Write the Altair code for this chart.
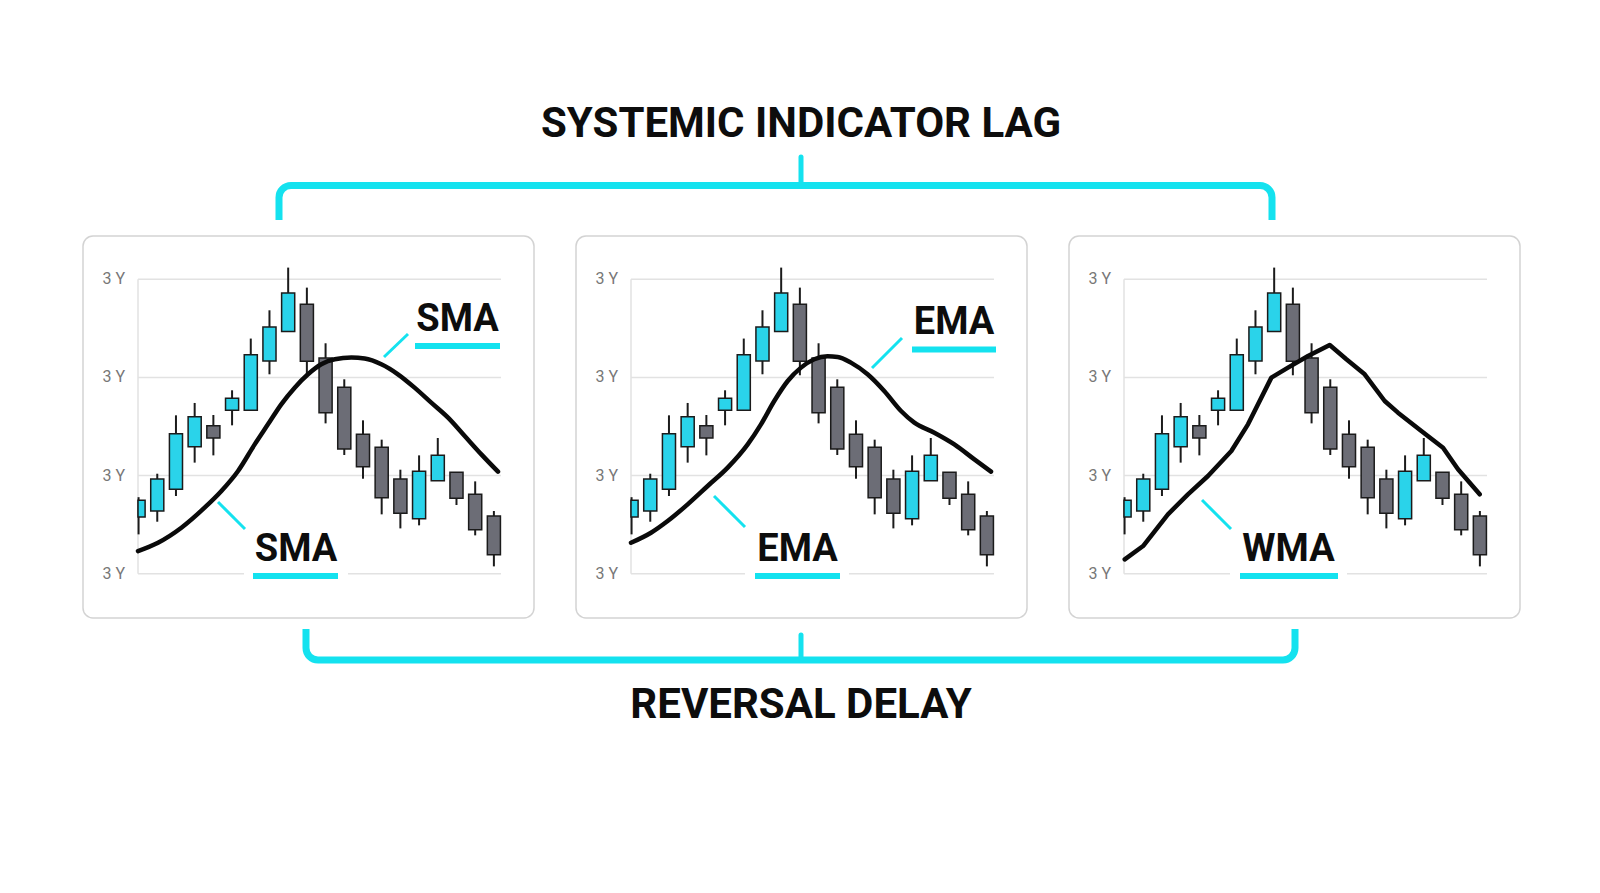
import altair as alt
import pandas as pd

# ---------------- data ----------------
candle_x = list(range(1, 21))
candle_open  = [105.78, 106.39, 108.60, 112.95, 115.09, 116.65, 116.65, 121.68, 124.67, 127.45,
                121.98, 118.99, 114.20, 112.88, 109.65, 105.61, 109.48, 110.33, 108.09, 105.88]
candle_close = [107.48, 109.65, 114.27, 116.00, 113.83, 117.87, 122.32, 125.14, 128.61, 121.64,
                116.41, 112.71, 110.91, 107.75, 106.15, 110.43, 112.06, 107.68, 104.49, 101.94]
candle_high  = [107.80, 110.19, 116.14, 117.40, 116.17, 118.69, 123.96, 126.84, 131.19, 129.15,
                123.48, 119.81, 115.63, 113.66, 110.60, 112.06, 113.83, 110.33, 109.41, 106.39]
candle_low   = [104.01, 105.30, 107.92, 111.32, 112.06, 115.12, 116.65, 120.32, 124.67, 120.22,
                115.32, 112.10, 109.68, 106.05, 104.62, 104.93, 109.48, 107.00, 103.91, 100.75]

sma_x = [0.97, 2.04, 3.29, 4.53, 5.43, 6.32, 7.21, 7.92, 8.63, 9.35, 10.06, 10.77, 11.49,
         12.38, 13.09, 13.98, 14.87, 15.76, 16.65, 17.55, 18.44, 19.33, 20.22]
sma_y = [102.31, 103.16, 104.69, 106.73, 108.43, 110.47, 113.18, 115.22, 117.26, 118.96, 120.32,
         121.34, 121.85, 122.02, 121.92, 121.34, 120.32, 118.96, 117.43, 115.90, 114.03, 112.16, 110.40]

ema_x = [0.97, 2.04, 2.93, 4.00, 5.07, 6.14, 7.21, 7.92, 8.63, 9.35, 10.06, 10.77, 11.48,
         12.02, 12.73, 13.62, 14.51, 15.41, 16.12, 17.19, 18.26, 19.33, 20.22]
ema_y = [103.16, 104.18, 105.37, 107.07, 108.94, 110.81, 113.18, 115.22, 117.60, 119.64, 121.00,
         121.85, 122.15, 122.09, 121.51, 120.32, 118.62, 116.58, 115.39, 114.37, 113.18, 111.65, 110.40]

wma_x = [1.01, 1.99, 3.32, 4.39, 5.46, 6.71, 7.60, 8.85, 9.74, 10.81, 11.97, 12.86, 13.84,
         14.91, 15.62, 16.87, 18.03, 18.83, 19.99]
wma_y = [101.46, 102.82, 106.05, 108.09, 109.96, 112.50, 115.22, 119.98, 121.00, 122.19, 123.31,
         121.85, 120.32, 117.60, 116.41, 114.54, 112.84, 110.64, 108.09]

grid_values = [100, 110, 120, 130]
grid_labels = ["3 Y", "3 Y", "3 Y", "3 Y"]
ma_names = ["SMA", "EMA", "WMA"]
title_top = "SYSTEMIC INDICATOR LAG"
title_bottom = "REVERSAL DELAY"

# ---------------- styling ----------------
CYAN = "#14e2ef"
CANDLE_CYAN = "#2ad3ea"
GRAY = "#6c6d76"
DARK = "#1b1b1b"
FONT = "Roboto"

BOX_W, BOX_H = 451, 382
PLOT_X0, PLOT_X1 = 0.97, 20.38
HALF = 0.35
xs = alt.Scale(domain=[-1.971, 22.145], nice=False, zero=False)
ys = alt.Scale(domain=[95.49, 134.41], nice=False, zero=False)

candles = pd.DataFrame({"x": candle_x, "open": candle_open, "close": candle_close,
                        "high": candle_high, "low": candle_low})
candles["dir"] = ["up" if c >= o else "down" for o, c in zip(candle_open, candle_close)]
grid = pd.DataFrame({"v": grid_values, "lab": grid_labels})
one = alt.Data(values=[{}])


def vrule(x, x2, y, y2=None, color=CYAN, w=3, cap="butt"):
    enc = dict(x=alt.value(x), x2=alt.value(x2), y=alt.value(y))
    if y2 is not None:
        enc["y2"] = alt.value(y2)
    return alt.Chart(one).mark_rule(color=color, strokeWidth=w, strokeCap=cap).encode(**enc)


def txt(s, x, y, size, color="#0d0d0d", weight="bold", align="center"):
    return alt.Chart(one).mark_text(text=s, font=FONT, fontSize=size, fontWeight=weight,
                                    color=color, align=align, baseline="alphabetic").encode(
        x=alt.value(x), y=alt.value(y))


def brace_frame(x0, x1, y0, y1, w=7, r=12):
    return alt.Chart(one).mark_rect(clip=True, fill="transparent", stroke=CYAN, strokeWidth=w,
                                    cornerRadius=r).encode(
        x=alt.value(x0), x2=alt.value(x1), y=alt.value(y0), y2=alt.value(y1))


def white_cover(x0, x1, y0, y1):
    return alt.Chart(one).mark_rect(clip=True, fill="white").encode(
        x=alt.value(x0), x2=alt.value(x1), y=alt.value(y0), y2=alt.value(y1))


def panel(mx, my, interp, name, lower, upper):
    box = alt.Chart(one).mark_rect(cornerRadius=10, fill="white", stroke="#d3d3d3",
                                   strokeWidth=1.5).encode(
        x=alt.value(0), x2=alt.value(BOX_W), y=alt.value(0), y2=alt.value(BOX_H))
    gridl = alt.Chart(grid).mark_rule(color="#e2e2e2", strokeWidth=1.5).transform_calculate(
        xa=str(PLOT_X0), xb=str(PLOT_X1)).encode(
        x=alt.X("xa:Q", scale=xs, axis=None), x2="xb:Q",
        y=alt.Y("v:Q", scale=ys, axis=None))
    axl = alt.Chart(grid).mark_rule(color="#e2e2e2", strokeWidth=1.5).transform_aggregate(
        lo="min(v)", hi="max(v)").transform_calculate(xa=str(PLOT_X0)).encode(
        x=alt.X("xa:Q", scale=xs, axis=None),
        y=alt.Y("lo:Q", scale=ys, axis=None), y2="hi:Q")
    labs = alt.Chart(grid).mark_text(font=FONT, fontSize=16, color="#777777", align="right",
                                     baseline="middle", dx=-13).transform_calculate(
        xa=str(PLOT_X0)).encode(
        x=alt.X("xa:Q", scale=xs, axis=None), y=alt.Y("v:Q", scale=ys, axis=None),
        text="lab:N")
    wick = alt.Chart(candles).mark_rule(color=DARK, strokeWidth=2).encode(
        x=alt.X("x:Q", scale=xs, axis=None),
        y=alt.Y("low:Q", scale=ys, axis=None), y2="high:Q")
    body = alt.Chart(candles).mark_rect(stroke=DARK, strokeWidth=1.5).transform_calculate(
        x0=f"max(datum.x - {HALF}, {PLOT_X0})", x1=f"datum.x + {HALF}").encode(
        x=alt.X("x0:Q", scale=xs, axis=None), x2="x1:Q",
        y=alt.Y("open:Q", scale=ys, axis=None), y2="close:Q",
        fill=alt.Fill("dir:N", scale=alt.Scale(domain=["up", "down"],
                                                range=[CANDLE_CYAN, GRAY]), legend=None))
    ma = alt.Chart(pd.DataFrame({"x": mx, "y": my})).mark_line(
        color="#0a0a0a", strokeWidth=4.5, interpolate=interp, strokeCap="round",
        strokeJoin="round").encode(
        x=alt.X("x:Q", scale=xs, axis=None), y=alt.Y("y:Q", scale=ys, axis=None), order="x:Q")

    layers = [box, gridl, axl, labs]
    gx0, gx1, ux0, ux1, tx, lx0, ly0, lx1, ly1 = lower
    layers.append(vrule(gx0, gx1, 337.7, color="white", w=4))
    layers += [wick, body, ma]
    layers.append(vrule(ux0, ux1, 340, color=CYAN, w=6))
    layers.append(vrule(lx0, lx1, ly0, ly1, color=CYAN, w=3))
    layers.append(txt(name, tx, 325, 38))
    if upper is not None:
        ux0, ux1, uy, tx, ty, lx0, ly0, lx1, ly1 = upper
        layers.append(vrule(ux0, ux1, uy, color=CYAN, w=6))
        layers.append(vrule(lx0, lx1, ly0, ly1, color=CYAN, w=3))
        layers.append(txt(name, tx, ty, 38))
    return alt.layer(*layers).properties(width=BOX_W, height=BOX_H)


p1 = panel(sma_x, sma_y, "monotone", ma_names[0],
           (161, 265, 170, 255, 213, 135, 266, 162, 293),
           (332, 417, 110, 374.5, 95, 301, 121, 325, 98))
p2 = panel(ema_x, ema_y, "monotone", ma_names[1],
           (169, 273, 179, 264, 221.5, 138, 260, 169, 291),
           (336, 420, 113.5, 378, 98, 296, 132, 326, 102))
p3 = panel(wma_x, wma_y, "linear", ma_names[2],
           (161, 278, 171, 269, 219.5, 133, 264, 162, 293),
           None)

W = 3 * BOX_W + 2 * 40
top = alt.layer(
    txt(title_top, 718, 129, 42),
    brace_frame(196, 1189, 177.5, 300),
    white_cover(180, 1205, 212, 227),
    vrule(718, 718, 149, 177, color=CYAN, w=5, cap="round"),
).properties(width=W, height=227)

bottom = alt.layer(
    brace_frame(223, 1212, -80, 41),
    white_cover(205, 1230, 0, 10),
    vrule(718, 718, 16, 41, color=CYAN, w=5, cap="round"),
    txt(title_bottom, 718, 99, 42),
).properties(width=W, height=150)

chart = alt.vconcat(top, alt.hconcat(p1, p2, p3, spacing=40), bottom, spacing=0).properties(
    padding={"left": 74, "top": 0, "right": 0, "bottom": 0},
    background="white",
).configure_view(strokeOpacity=0)

chart.save("out.html", embed_options={"renderer": "svg", "actions": False})
